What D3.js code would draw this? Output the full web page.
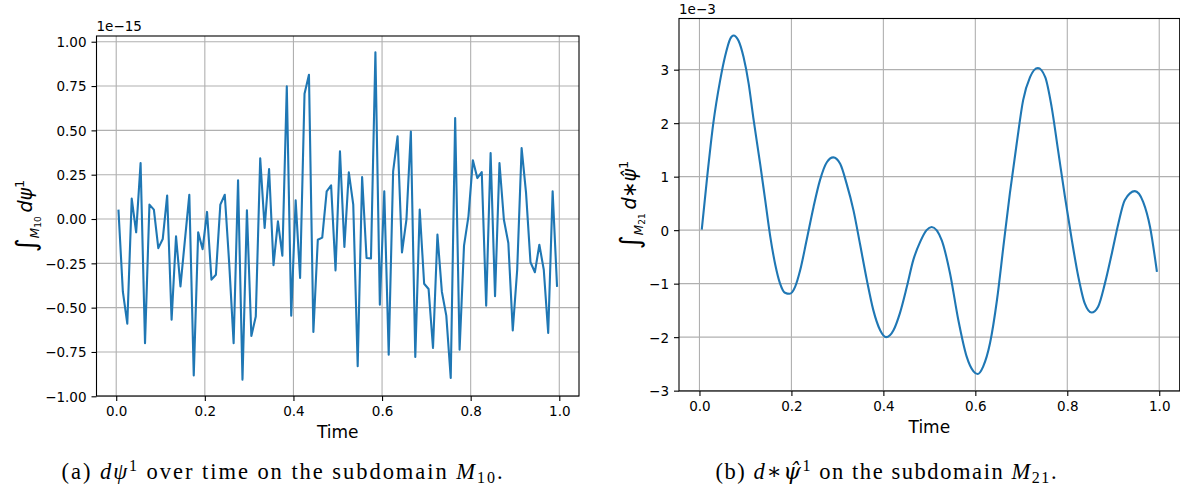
<!DOCTYPE html>
<html>
<head>
<meta charset="utf-8">
<script src="https://cdn.jsdelivr.net/npm/d3@7"></script>
<style>
  body { margin: 0; background: #fff; }
  svg { display: block; }
  .tick text { font-family: "DejaVu Sans", sans-serif; font-size: 13.5px; fill: #000; }
  .tick line { stroke: #000; stroke-width: 1.1; }
</style>
</head>
<body>
<svg id="fig" width="1180" height="494"></svg>
<script>
// panel (a): d psi^1 on M10, scaled by 1e-15
var tLeft = [0.005,0.015,0.025,0.035,0.045,0.055,0.065,0.075,0.085,0.095,
  0.105,0.115,0.125,0.135,0.145,0.155,0.165,0.175,0.185,0.195,
  0.205,0.215,0.225,0.235,0.245,0.255,0.265,0.275,0.285,0.295,
  0.305,0.315,0.325,0.335,0.345,0.355,0.365,0.375,0.385,0.395,
  0.405,0.415,0.425,0.435,0.445,0.455,0.465,0.475,0.485,0.495,
  0.505,0.515,0.525,0.535,0.545,0.555,0.565,0.575,0.585,0.595,
  0.605,0.615,0.625,0.635,0.645,0.655,0.665,0.675,0.685,0.695,
  0.705,0.715,0.725,0.735,0.745,0.755,0.765,0.775,0.785,0.795,
  0.805,0.815,0.825,0.835,0.845,0.855,0.865,0.875,0.885,0.895,
  0.905,0.915,0.925,0.935,0.945,0.955,0.965,0.975,0.985,0.995];
var vLeft = [0.053,-0.41,-0.59,0.115,-0.075,0.316,-0.70,0.081,0.053,-0.164,
  -0.113,0.133,-0.568,-0.098,-0.38,-0.12,0.137,-0.883,-0.075,-0.17,
  0.04,-0.342,-0.314,0.081,0.137,-0.25,-0.70,0.218,-0.906,0.049,
  -0.66,-0.55,0.342,-0.05,0.282,-0.26,-0.013,-0.207,0.748,-0.545,
  0.105,-0.333,0.707,0.814,-0.637,-0.117,-0.105,0.156,0.19,-0.29,
  0.382,-0.158,0.263,0.081,-0.83,0.237,-0.22,-0.222,0.94,-0.483,
  0.156,-0.765,0.269,0.466,-0.188,-0.004,0.494,-0.778,0.053,-0.365,
  -0.395,-0.727,-0.088,-0.41,-0.545,-0.897,0.57,-0.737,-0.15,0.015,
  0.331,0.231,0.265,-0.489,0.372,-0.436,0.316,-0.004,-0.135,-0.628,
  -0.286,0.40,0.147,-0.244,-0.30,-0.145,-0.286,-0.643,0.156,-0.383];

// panel (b): d*psi-hat^1 on M21, scaled by 1e-3
var tRight = [0.005,0.016,0.030,0.045,0.056,0.067,0.074,0.085,0.096,0.107,
  0.117,0.132,0.143,0.154,0.165,0.175,0.186,0.196,0.208,0.219,
  0.233,0.248,0.262,0.277,0.291,0.306,0.320,0.335,0.349,0.364,
  0.378,0.393,0.406,0.422,0.436,0.451,0.465,0.480,0.494,0.505,
  0.527,0.545,0.563,0.581,0.596,0.605,0.617,0.632,0.647,0.661,
  0.675,0.690,0.704,0.719,0.736,0.752,0.766,0.780,0.795,0.810,
  0.824,0.838,0.853,0.867,0.882,0.897,0.911,0.925,0.947,0.965,
  0.980,0.995];
var vRight = [0.01,0.93,1.99,2.80,3.26,3.58,3.64,3.54,3.23,2.74,
  2.11,1.24,0.56,-0.12,-0.65,-0.99,-1.17,-1.19,-1.06,-0.75,
  -0.19,0.43,0.93,1.27,1.36,1.24,0.87,0.37,-0.25,-0.93,
  -1.49,-1.87,-2.00,-1.87,-1.55,-1.06,-0.56,-0.22,0.00,0.06,
  -0.19,-0.81,-1.68,-2.36,-2.64,-2.69,-2.55,-2.11,-1.31,-0.31,
  0.68,1.62,2.43,2.86,3.03,2.86,2.30,1.49,0.62,-0.19,
  -0.87,-1.37,-1.54,-1.43,-0.99,-0.43,0.12,0.56,0.73,0.53,
  0.06,-0.78];

var xTicks = [0, 0.2, 0.4, 0.6, 0.8, 1.0];
var yTicksLeft = [-1, -0.75, -0.5, -0.25, 0, 0.25, 0.5, 0.75, 1];
var yTicksRight = [-3, -2, -1, 0, 1, 2, 3];

var svg = d3.select("#fig");

// matplotlib style 5% margins
function padded(ext) {
  var m = (ext[1] - ext[0]) * 0.05;
  return [ext[0] - m, ext[1] + m];
}

function drawPanel(p) {
  var x = d3.scaleLinear().domain(padded(d3.extent(p.t))).range([p.left, p.right]);
  var y = d3.scaleLinear().domain(padded(d3.extent(p.v))).range([p.bottom, p.top]);
  var g = svg.append("g");

  // grid
  g.selectAll(null).data(xTicks).enter().append("line")
    .attr("x1", d => x(d)).attr("x2", d => x(d))
    .attr("y1", p.top).attr("y2", p.bottom)
    .attr("stroke", "#b0b0b0").attr("stroke-width", 1.1);
  g.selectAll(null).data(p.yTicks).enter().append("line")
    .attr("x1", p.left).attr("x2", p.right)
    .attr("y1", d => y(d)).attr("y2", d => y(d))
    .attr("stroke", "#b0b0b0").attr("stroke-width", 1.1);

  // series
  var pts = p.t.map((d, i) => [d, p.v[i]]);
  g.append("path").datum(pts)
    .attr("fill", "none").attr("stroke", "#1f77b4")
    .attr("stroke-width", 2.1).attr("stroke-linejoin", "round")
    .attr("d", d3.line().curve(p.curve).x(d => x(d[0])).y(d => y(d[1])));

  // axes
  var xa = g.append("g").attr("transform", "translate(0," + p.bottom + ")")
    .call(d3.axisBottom(x).tickValues(xTicks).tickFormat(d3.format(".1f"))
      .tickSize(5).tickPadding(5).tickSizeOuter(0));
  xa.select(".domain").remove();
  var ya = g.append("g").attr("transform", "translate(" + p.left + ",0)")
    .call(d3.axisLeft(y).tickValues(p.yTicks).tickFormat(p.fmt)
      .tickSize(5).tickPadding(5).tickSizeOuter(0));
  ya.select(".domain").remove();
  ya.selectAll(".tick text").attr("dy", "0.36em");

  g.append("rect")
    .attr("x", p.left).attr("y", p.top)
    .attr("width", p.right - p.left).attr("height", p.bottom - p.top)
    .attr("fill", "none").attr("stroke", "#000").attr("stroke-width", 1.1);

  // offset text
  g.append("text").attr("x", p.left).attr("y", p.top - 5)
    .attr("font-family", "DejaVu Sans").attr("font-size", 13.5)
    .text(p.offset);

  // x label
  g.append("text").attr("x", (p.left + p.right) / 2).attr("y", p.bottom + 42)
    .attr("text-anchor", "middle")
    .attr("font-family", "DejaVu Sans").attr("font-size", 17)
    .text("Time");
  return g;
}

drawPanel({t: tLeft, v: vLeft, left: 96.5, right: 579, top: 36, bottom: 396,
  yTicks: yTicksLeft, fmt: d3.format(".2f"), offset: "1e\u221215", curve: d3.curveLinear});
drawPanel({t: tRight, v: vRight, left: 679, right: 1179.7, top: 18.5, bottom: 391,
  yTicks: yTicksRight, fmt: d3.format("d"), offset: "1e\u22123", curve: d3.curveMonotoneX});

// y labels (mathtext-like)
function yLabel(cx, cy, sub, body) {
  var t = svg.append("text")
    .attr("transform", "translate(" + cx + "," + cy + ") rotate(-90)")
    .attr("text-anchor", "middle")
    .attr("font-family", "DejaVu Sans").attr("font-size", 19);
  t.append("tspan").attr("font-size", 27).attr("dy", 3).text("\u222b");
  t.append("tspan").attr("font-style", "italic").attr("font-size", 12).attr("dy", 4).text("M");
  t.append("tspan").attr("font-size", 9).attr("dy", 2).text(sub);
  t.append("tspan").attr("dy", -9).text("\u2009");
  t.append("tspan").attr("font-style", "italic").text(body);
  t.append("tspan").attr("font-size", 13).attr("dy", -8).text("1");
}
yLabel(32, 216, "10", "d\u03c8");
yLabel(636, 205, "21", "d\u2217\u03c8\u0302");

// captions: [text, italic, size, dy, family]
function caption(cx, parts, w) {
  var t = svg.append("text").attr("x", cx).attr("y", 479)
    .attr("text-anchor", "middle")
    .attr("font-family", "'Liberation Serif', 'DejaVu Serif', serif").attr("font-size", 22.5)
    .attr("textLength", w).attr("lengthAdjust", "spacing");
  parts.forEach(function(s) {
    var sp = t.append("tspan").text(s[0]);
    if (s[1]) sp.attr("font-style", "italic");
    if (s[2]) sp.attr("font-size", s[2]);
    if (s[3]) sp.attr("dy", s[3]);
    if (s[4]) sp.attr("font-family", s[4]);
  });
}
caption(282, [["(a) "], ["d\u03c8", 1], ["1", 0, 16, -8], [" over time on the subdomain ", 0, 0, 8],
  ["M", 1], ["10", 0, 16, 4], [".", 0, 0, -4]], 441);
caption(886, [["(b) "], ["d\u2217", 1], ["\u03c8\u0302", 1, 0, 0, "DejaVu Serif"], ["1", 0, 16, -8], [" on the subdomain ", 0, 0, 8],
  ["M", 1], ["21", 0, 16, 4], [".", 0, 0, -4]], 341);
</script>
</body>
</html>
